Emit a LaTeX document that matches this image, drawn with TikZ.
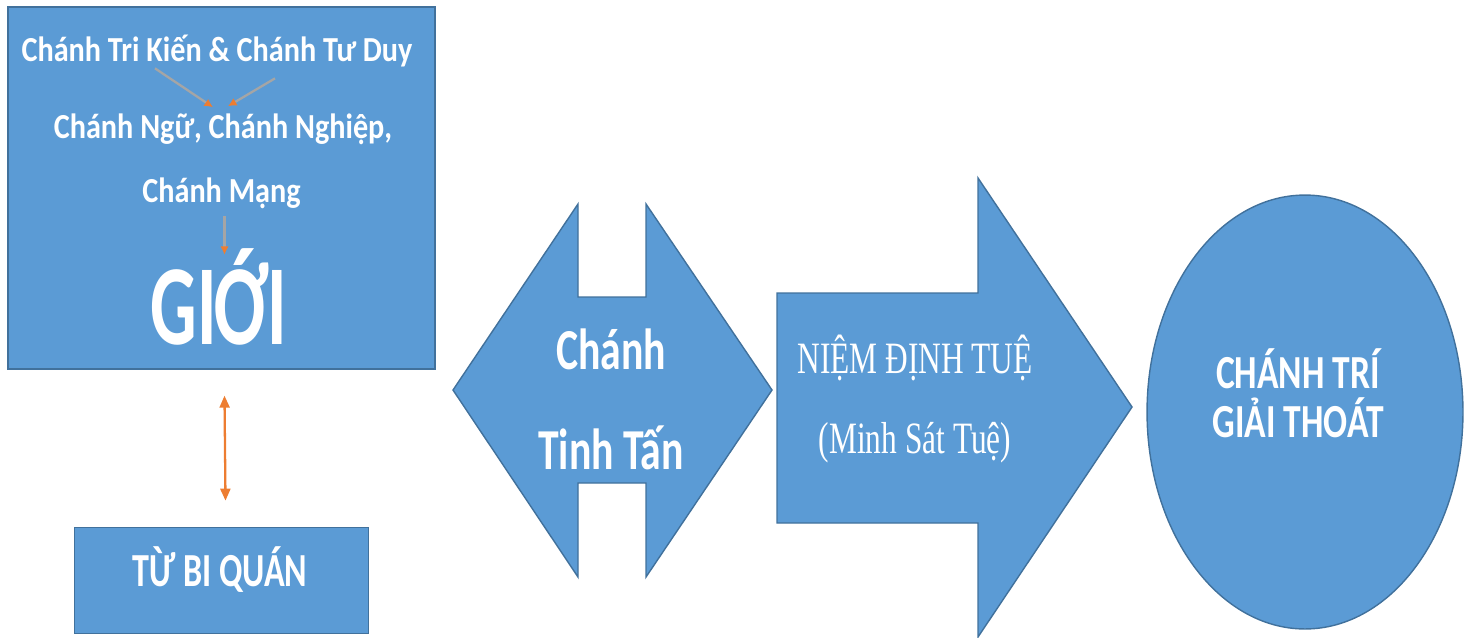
\documentclass[tikz,border=0pt]{standalone}
\usepackage{fontspec}
\setmainfont{Carlito}
\newfontfamily\boxsans[FakeStretch=0.86]{Carlito}
\newfontfamily\narrowsans[FakeStretch=0.72]{Carlito}
\newfontfamily\gioisans[FakeStretch=0.64]{Carlito}
\newfontfamily\ovalsans[FakeStretch=0.75]{Carlito}
\newfontfamily\narrowserif[FakeStretch=0.70]{Liberation Serif}
\usetikzlibrary{positioning, calc, arrows.meta, shapes.geometric}

\definecolor{shapeblue}{HTML}{5B9BD5}
\definecolor{shapeline}{HTML}{41719C}
\definecolor{linkorange}{HTML}{ED7D31}
\definecolor{linkgrey}{HTML}{A5A5A5}

\tikzset{
  block/.style={draw=shapeline, fill=shapeblue, line width=0.8pt},
  whitetext/.style={text=white, inner sep=0pt, align=center},
  smalllink/.style={draw=linkgrey, line width=1.3pt,
    -{Latex[length=0.17cm, width=0.17cm, color=linkorange]}},
  bothlink/.style={draw=linkorange, line width=1.3pt,
    {Triangle[length=0.24cm, width=0.2cm]}-{Triangle[length=0.24cm, width=0.2cm]}},
}

\begin{document}
\begin{tikzpicture}[x=0.02cm, y=-0.02cm, node distance=1cm]

        \useasboundingbox (0,0) rectangle (1470,637);

        % sila box
        \node[block, minimum width=8.54cm, minimum height=7.24cm] (sila) at (221.5,188) {};
        \node[whitetext, font=\boxsans\fontsize{20}{24}\selectfont\bfseries] (tri) at (217,51) {Chánh Tri Kiến \& Chánh Tư Duy};
        \node[whitetext, font=\boxsans\fontsize{20}{24}\selectfont\bfseries] (ngu) at (223,129) {Chánh Ngữ, Chánh Nghiệp,};
        \node[whitetext, font=\boxsans\fontsize{20}{24}\selectfont\bfseries] (mang) at (221.5,193) {Chánh Mạng};
        \node[whitetext, font=\gioisans\fontsize{65}{68}\selectfont\bfseries] (gioi) at (219,297) {GIỚI};

        % links inside the box
        \draw[smalllink] ($(tri.south)+(-62,1)$) -- ($(ngu.north)+(-10,-6)$);
        \draw[smalllink] ($(tri.south)+(58,11)$) -- ($(ngu.north)+(5,-7)$);
        \draw[smalllink] ($(mang.south)+(3,7)$) -- ($(mang.south)+(3,46)$);

        % tu bi quan
        \node[block, minimum width=5.88cm, minimum height=2.12cm] (tubi) [below=3.14cm of sila] {};
        \node[whitetext, font=\narrowsans\fontsize{27}{30}\selectfont\bfseries] (tubitext) at (220,570) {TỪ BI QUÁN};
        \draw[bothlink] ($(sila.south)+(3,26)$) -- ($(tubi.north)+(4,-26)$);

        % chanh tinh tan
        \draw[block] (453,390) -- (578,204) -- (578,297) -- (646,297) -- (646,204)
            -- (772,390) -- (646,577) -- (646,483) -- (578,483) -- (578,577) -- cycle;
        \node[whitetext, font=\narrowsans\fontsize{33}{57}\selectfont\bfseries] (tinhtan) at (611,399) {Chánh\\Tinh Tấn};

        % niem dinh tue
        \draw[block] (777,293) -- (978,293) -- (978,178) -- (1132,407)
            -- (978,637) -- (978,523) -- (777,523) -- cycle;
        \node[whitetext, font=\narrowserif\fontsize{25.5}{45.5}\selectfont] (niem) at (915,399) {NIỆM ĐỊNH TUỆ\\(Minh Sát Tuệ)};

        % chanh tri giai thoat
        \node[block, ellipse, minimum width=6.32cm, minimum height=8.68cm, inner sep=0pt] (tritue) at (1305,412) {};
        \node[whitetext, font=\ovalsans\fontsize{27}{28}\selectfont\bfseries] (giaithoat) at (1298,393) {CHÁNH TRÍ\\GIẢI THOÁT};

    \end{tikzpicture}
\end{document}
